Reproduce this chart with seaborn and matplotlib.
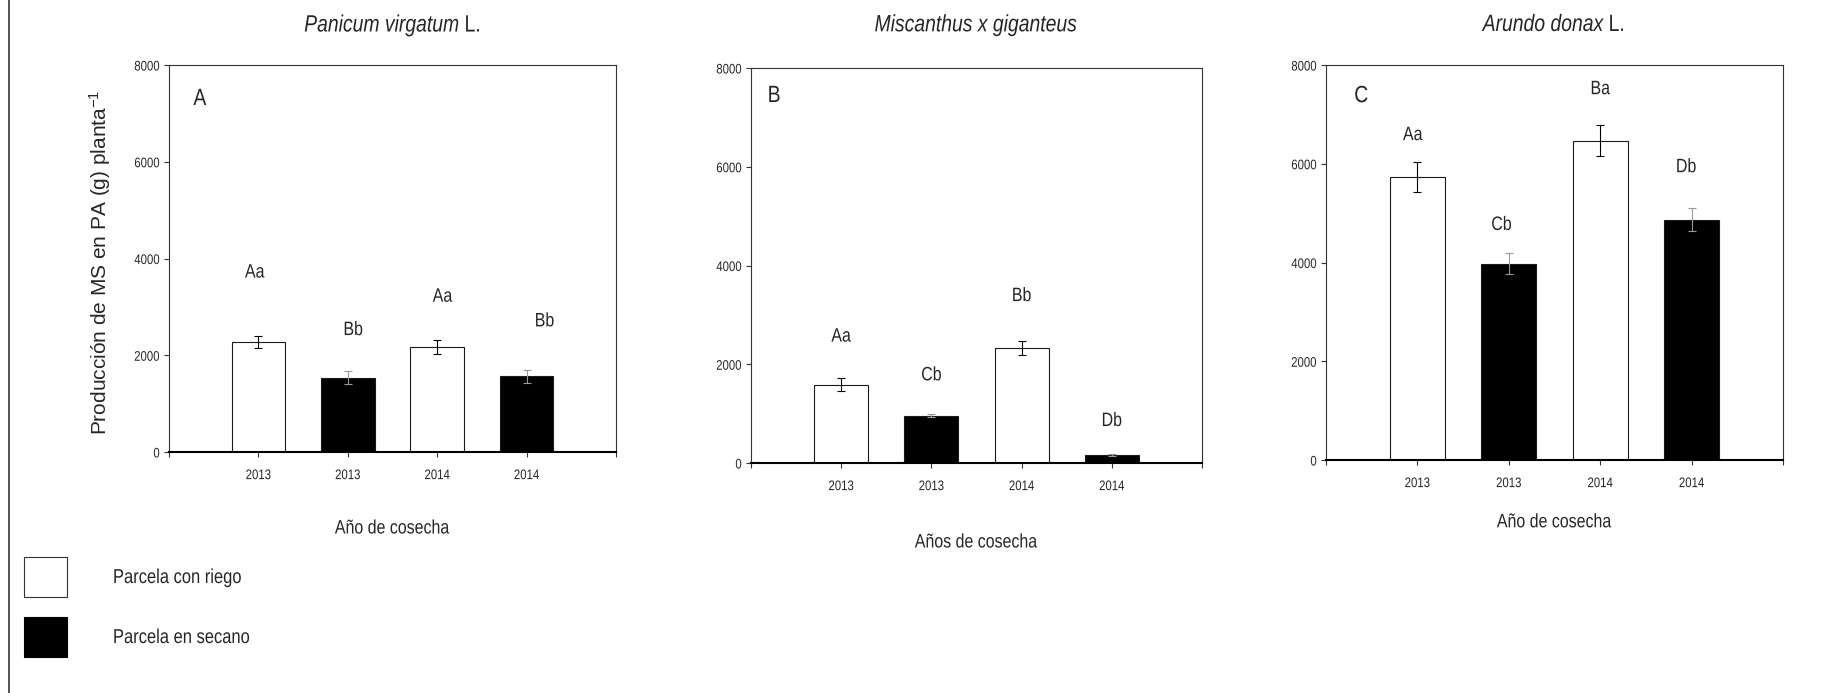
import matplotlib
matplotlib.use("Agg")
import matplotlib.pyplot as plt
import numpy as np
import pandas as pd
import seaborn as sns
from matplotlib.lines import Line2D
from matplotlib.patches import Patch
from matplotlib.patheffects import AbstractPathEffect
from matplotlib.transforms import Affine2D

# ---------------------------------------------------------------- data
years = ["2013", "2013", "2014", "2014"]
treatments = ["Parcela con riego", "Parcela en secano",
              "Parcela con riego", "Parcela en secano"]

panicum = [2270, 1535, 2170, 1565]
panicum_err = [130, 135, 137, 130]
panicum_letters = ["Aa", "Bb", "Aa", "Bb"]

miscanthus = [1585, 955, 2335, 165]
miscanthus_err = [130, 30, 140, 25]
miscanthus_letters = ["Aa", "Cb", "Bb", "Db"]

arundo = [5735, 3975, 6465, 4865]
arundo_err = [305, 215, 310, 230]
arundo_letters = ["Aa", "Cb", "Ba", "Db"]

y_ticks = [0, 2000, 4000, 6000, 8000]

# ---------------------------------------------------------------- style
sns.set_style("ticks")
FONT = "Liberation Sans"
plt.rcParams["font.family"] = [FONT, "DejaVu Sans"]
plt.rcParams["mathtext.fontset"] = "custom"
plt.rcParams["mathtext.rm"] = FONT
plt.rcParams["mathtext.it"] = f"{FONT}:italic"


class Condense(AbstractPathEffect):
    """Draw text glyphs horizontally compressed (narrow typeface look)."""

    def __init__(self, sx=0.82, anchor="center"):
        super().__init__()
        self.sx = sx
        self.anchor = anchor

    def draw_path(self, renderer, gc, tpath, affine, rgbFace=None):
        ext = tpath.get_extents()
        if self.anchor == "left":
            x0 = 0.0
        elif self.anchor == "right":
            x0 = ext.x1
        else:
            x0 = 0.5 * (ext.x0 + ext.x1)
        pre = Affine2D().translate(-x0, 0).scale(self.sx, 1.0).translate(x0, 0)
        renderer.draw_path(gc, tpath, pre + affine, rgbFace)


def narrow(text, anchor="center"):
    text.set_path_effects([Condense(anchor=anchor)])
    return text


W, H = 1839, 693
fig = plt.figure(figsize=(W / 100, H / 100), dpi=100)
fig.patch.set_facecolor("white")


def px_rect(left, top, right, bottom):
    return [left / W, 1 - bottom / H, (right - left) / W, (bottom - top) / H]


palette = {"Parcela con riego": "white", "Parcela en secano": "black"}
err_colors = {"Parcela con riego": "black", "Parcela en secano": "#9a9a9a"}


def draw_panel(rect, values, errors, letters, letter_y, letter_dx, title, title_y,
               tag, tag_xy, xlabel, xlabel_y, ylabel=None):
    ax = fig.add_axes(rect)
    df = pd.DataFrame({
        "bar": [f"{y} {t}" for y, t in zip(years, treatments)],
        "treatment": treatments,
        "value": values,
    })
    sns.barplot(data=df, x="bar", y="value", hue="treatment", palette=palette,
                dodge=False, width=0.6, edgecolor="#1a1a1a", linewidth=0.8,
                errorbar=None, legend=False, ax=ax, zorder=2)
    for i, (v, e, t) in enumerate(zip(values, errors, treatments)):
        ax.errorbar(i, v, yerr=e, fmt="none", ecolor=err_colors[t],
                    elinewidth=0.8, capsize=3.2, capthick=0.8, zorder=3)
    for i, (lab, ly, dx) in enumerate(zip(letters, letter_y, letter_dx)):
        narrow(ax.text(i + dx, ly, lab, ha="center", va="center", fontsize=14))

    ax.set_xlim(-1, 4)
    ax.set_ylim(0, 8000)
    ax.set_xticks([-1, 0, 1, 2, 3, 4])
    ax.set_xticklabels([""] + years + [""])
    ax.set_yticks(y_ticks)
    ax.set_yticklabels([str(t) for t in y_ticks])
    ax.tick_params(axis="y", direction="out", length=3.6, width=0.8, pad=3,
                   labelsize=10, color="#333333")
    ax.tick_params(axis="x", direction="out", length=3.6, width=0.8, pad=8,
                   labelsize=10, color="#333333")
    for lab in ax.get_xticklabels():
        narrow(lab, "center")
    for lab in ax.get_yticklabels():
        narrow(lab, "right")

    for side in ("left", "top", "right"):
        ax.spines[side].set_visible(True)
        ax.spines[side].set_linewidth(0.8)
        ax.spines[side].set_color("#333333")
    ax.spines["bottom"].set_linewidth(1.5)
    ax.spines["bottom"].set_color("black")

    narrow(ax.set_title(title, y=title_y, va="center", pad=0, fontsize=17))
    narrow(ax.text(tag_xy[0], tag_xy[1], tag, transform=ax.transAxes,
                   ha="center", va="center", fontsize=17))

    narrow(ax.set_xlabel(xlabel, fontsize=14))
    ax.xaxis.label.set_va("center")
    ax.xaxis.set_label_coords(0.5, xlabel_y)
    if ylabel:
        ax.set_ylabel(ylabel, fontsize=15)
        ax.yaxis.set_label_coords(-0.125, 0.49)
    else:
        ax.set_ylabel("")
    return ax


draw_panel(px_rect(169, 65, 616, 452), panicum, panicum_err, panicum_letters,
           [3700, 2510, 3200, 2690], [-0.04, 0.06, 0.06, 0.2],
           r"$\mathit{Panicum\ virgatum}$ L.", 1.103,
           "A", (0.069, 0.912), "Año de cosecha", -0.199,
           ylabel=r"Producción de MS en PA (g) planta$^{-1}$")

draw_panel(px_rect(751, 68, 1202, 463), miscanthus, miscanthus_err, miscanthus_letters,
           [2550, 1765, 3370, 840], [0, 0, 0, 0],
           r"$\mathit{Miscanthus\ x\ giganteus}$", 1.109,
           "B", (0.051, 0.929), "Años de cosecha", -0.2025)

draw_panel(px_rect(1326, 65, 1783, 460), arundo, arundo_err, arundo_letters,
           [6570, 4750, 7500, 5920], [-0.05, -0.08, 0, -0.06],
           r"$\mathit{Arundo\ donax}$ L.", 1.101,
           "C", (0.077, 0.921), "Año de cosecha", -0.159)

# treatment key at the lower left
fs = 14.5
fs_px = fs * 100 / 72
box_h = 40 / fs_px
leg = fig.legend(handles=[Patch(facecolor="white", edgecolor="#333333", linewidth=0.8),
                          Patch(facecolor="black", edgecolor="black", linewidth=0.8)],
                 labels=["Parcela con riego", "Parcela en secano"],
                 loc="upper left", bbox_to_anchor=(24 / W, 1 - 557 / H),
                 frameon=False, fontsize=fs,
                 handlelength=43 / fs_px, handleheight=(box_h - 0.245) / 0.65,
                 handletextpad=46 / fs_px, labelspacing=20 / fs_px,
                 borderpad=0, borderaxespad=0)
for t in leg.get_texts():
    narrow(t, "left")

# frame line along the left edge of the figure
fig.add_artist(Line2D([9 / W, 9 / W], [0, 1], transform=fig.transFigure,
                      color="#333333", linewidth=1.2))

fig.savefig("out.png", dpi=100)
